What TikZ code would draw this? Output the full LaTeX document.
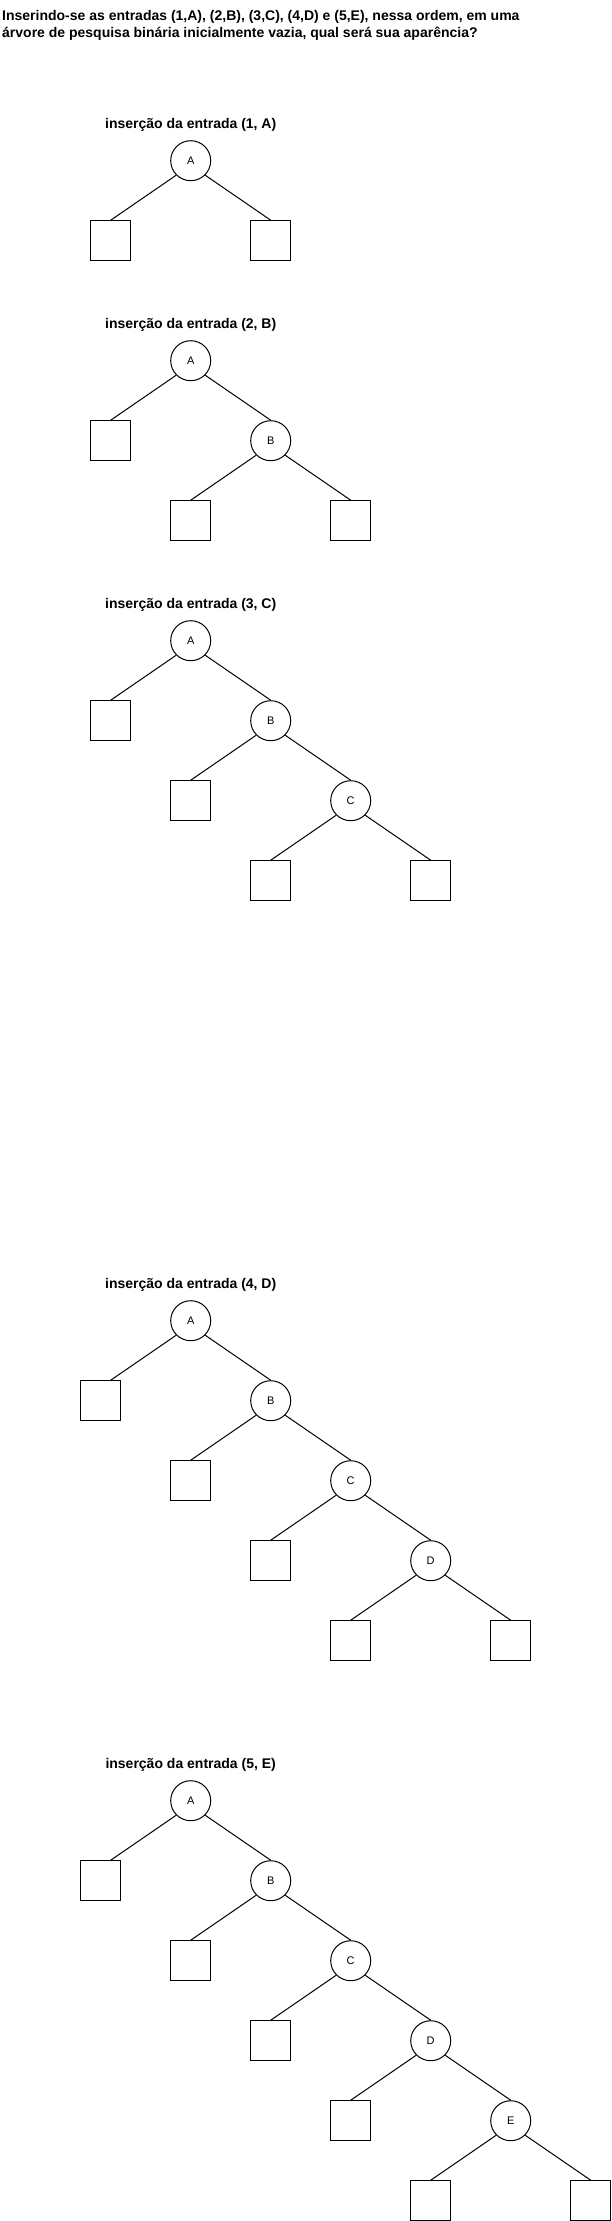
\documentclass[tikz,border=0pt]{standalone}
\usepackage{fontspec}
\setmainfont{Liberation Sans}
\begin{document}
\begin{tikzpicture}[x=1pt,y=-1pt,
  key/.style={circle, draw, line width=1pt, minimum size=40pt, inner sep=0pt, font=\fontsize{11}{13}\selectfont},
  leaf/.style={draw, line width=1pt, minimum size=40pt, inner sep=0pt},
  ttl/.style={font=\bfseries\fontsize{14}{16}\selectfont, anchor=base, inner sep=0pt},
  head/.style={font=\bfseries\fontsize{14}{16}\selectfont, anchor=base west, inner sep=0pt},
  lnk/.style={line width=1pt}]
\fill[white] (0,0) rectangle (611,2221);
\useasboundingbox (0,0) rectangle (611,2221);

\node[head] (h1) at (2,21) {Inserindo-se as entradas (1,A), (2,B), (3,C), (4,D) e (5,E), nessa ordem, em uma};
\node[head] (h2) at (2,38) {árvore de pesquisa binária inicialmente vazia, qual será sua aparência?};

% Tree 1
\node[ttl] (t1T) at (190.7,128.7) {inserção da entrada (1, A)};
\node[key] (t1A) at (190.7,160.7) {A};
\node[leaf] (t1L) at (110.7,240.7) {};
\node[leaf] (t1R) at (270.7,240.7) {};
\draw[lnk] (t1A.225) -- (t1L.north);
\draw[lnk] (t1A.315) -- (t1R.north);

% Tree 2
\node[ttl] (t2T) at (190.7,328.7) {inserção da entrada (2, B)};
\node[key] (t2A) at (190.7,360.7) {A};
\node[leaf] (t2AL) at (110.7,440.7) {};
\node[key] (t2B) at (270.7,440.7) {B};
\node[leaf] (t2BL) at (190.7,520.7) {};
\node[leaf] (t2BR) at (350.7,520.7) {};
\draw[lnk] (t2A.225) -- (t2AL.north);
\draw[lnk] (t2A.315) -- (t2B.north);
\draw[lnk] (t2B.225) -- (t2BL.north);
\draw[lnk] (t2B.315) -- (t2BR.north);

% Tree 3
\node[ttl] (t3T) at (190.7,608.7) {inserção da entrada (3, C)};
\node[key] (t3A) at (190.7,640.7) {A};
\node[leaf] (t3AL) at (110.7,720.7) {};
\node[key] (t3B) at (270.7,720.7) {B};
\node[leaf] (t3BL) at (190.7,800.7) {};
\node[key] (t3C) at (350.7,800.7) {C};
\node[leaf] (t3CL) at (270.7,880.7) {};
\node[leaf] (t3CR) at (430.7,880.7) {};
\draw[lnk] (t3A.225) -- (t3AL.north);
\draw[lnk] (t3A.315) -- (t3B.north);
\draw[lnk] (t3B.225) -- (t3BL.north);
\draw[lnk] (t3B.315) -- (t3C.north);
\draw[lnk] (t3C.225) -- (t3CL.north);
\draw[lnk] (t3C.315) -- (t3CR.north);

% Tree 4
\node[ttl] (t4T) at (190.7,1288.7) {inserção da entrada (4, D)};
\node[key] (t4A) at (190.7,1320.7) {A};
\node[leaf] (t4AL) at (100.7,1400.7) {};
\coordinate (t4ALe) at ([xshift=10pt]t4AL.north);
\node[key] (t4B) at (270.7,1400.7) {B};
\node[leaf] (t4BL) at (190.7,1480.7) {};
\node[key] (t4C) at (350.7,1480.7) {C};
\node[leaf] (t4CL) at (270.7,1560.7) {};
\node[key] (t4D) at (430.7,1560.7) {D};
\node[leaf] (t4DL) at (350.7,1640.7) {};
\node[leaf] (t4DR) at (510.7,1640.7) {};
\draw[lnk] (t4A.225) -- (t4ALe);
\draw[lnk] (t4A.315) -- (t4B.north);
\draw[lnk] (t4B.225) -- (t4BL.north);
\draw[lnk] (t4B.315) -- (t4C.north);
\draw[lnk] (t4C.225) -- (t4CL.north);
\draw[lnk] (t4C.315) -- (t4D.north);
\draw[lnk] (t4D.225) -- (t4DL.north);
\draw[lnk] (t4D.315) -- (t4DR.north);

% Tree 5
\node[ttl] (t5T) at (190.7,1768.7) {inserção da entrada (5, E)};
\node[key] (t5A) at (190.7,1800.7) {A};
\node[leaf] (t5AL) at (100.7,1880.7) {};
\coordinate (t5ALe) at ([xshift=10pt]t5AL.north);
\node[key] (t5B) at (270.7,1880.7) {B};
\node[leaf] (t5BL) at (190.7,1960.7) {};
\node[key] (t5C) at (350.7,1960.7) {C};
\node[leaf] (t5CL) at (270.7,2040.7) {};
\node[key] (t5D) at (430.7,2040.7) {D};
\node[leaf] (t5DL) at (350.7,2120.7) {};
\node[key] (t5E) at (510.7,2120.7) {E};
\node[leaf] (t5EL) at (430.7,2200.7) {};
\node[leaf] (t5ER) at (590.7,2200.7) {};
\draw[lnk] (t5A.225) -- (t5ALe);
\draw[lnk] (t5A.315) -- (t5B.north);
\draw[lnk] (t5B.225) -- (t5BL.north);
\draw[lnk] (t5B.315) -- (t5C.north);
\draw[lnk] (t5C.225) -- (t5CL.north);
\draw[lnk] (t5C.315) -- (t5D.north);
\draw[lnk] (t5D.225) -- (t5DL.north);
\draw[lnk] (t5D.315) -- (t5E.north);
\draw[lnk] (t5E.225) -- (t5EL.north);
\draw[lnk] (t5E.315) -- (t5ER.north);
\end{tikzpicture}
\end{document}
